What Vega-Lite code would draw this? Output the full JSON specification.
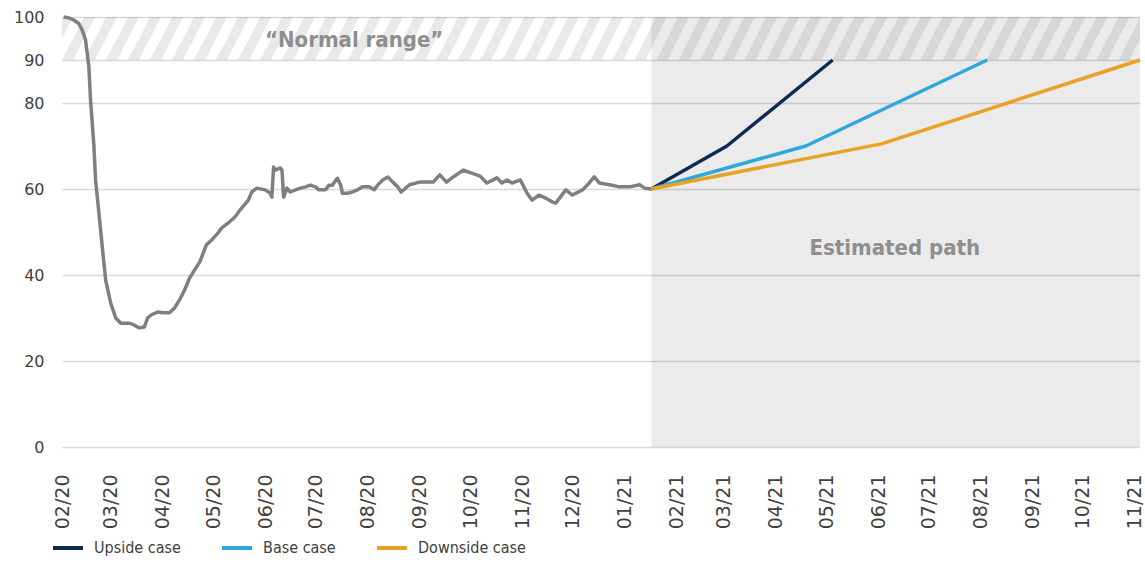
{
  "$schema": "https://vega.github.io/schema/vega-lite/v6.json",
  "width": 1078,
  "height": 430,
  "autosize": {"type": "none"},
  "padding": {"left": 62, "top": 17, "right": 5, "bottom": 116},
  "background": "white",
  "config": {
    "view": {"stroke": null},
    "font": "DejaVu Sans",
    "axisX": {"domain": false, "ticks": false, "grid": false, "labelAngle": -90, "labelPadding": 27, "labelFont": "DejaVu Sans", "labelFontSize": 19, "labelColor": "#404040", "title": null},
    "axisY": {"domain": false, "ticks": false, "grid": true, "gridColor": "#d9d9d9", "gridWidth": 1.5, "labelPadding": 18, "labelFont": "DejaVu Sans", "labelFontSize": 16, "labelColor": "#404040", "title": null}
  },
  "datasets": {
    "actual": [
      {"date":"2020-02-02","value":100},{"date":"2020-02-05","value":99.8},{"date":"2020-02-08","value":99.3},{"date":"2020-02-11","value":98.5},
      {"date":"2020-02-13","value":97},{"date":"2020-02-15","value":94.7},{"date":"2020-02-17","value":88.4},{"date":"2020-02-18","value":80.7},
      {"date":"2020-02-20","value":70},{"date":"2020-02-21","value":62},{"date":"2020-02-23","value":54.4},{"date":"2020-02-25","value":46.5},
      {"date":"2020-02-27","value":38.8},{"date":"2020-03-01","value":33.5},{"date":"2020-03-04","value":30},{"date":"2020-03-07","value":28.8},
      {"date":"2020-03-12","value":28.8},{"date":"2020-03-15","value":28.4},{"date":"2020-03-18","value":27.7},{"date":"2020-03-21","value":27.9},
      {"date":"2020-03-23","value":30},{"date":"2020-03-25","value":30.7},{"date":"2020-03-29","value":31.4},{"date":"2020-04-01","value":31.2},
      {"date":"2020-04-05","value":31.2},{"date":"2020-04-08","value":32.3},{"date":"2020-04-11","value":34.2},{"date":"2020-04-14","value":36.5},
      {"date":"2020-04-17","value":39.3},{"date":"2020-04-20","value":41.2},{"date":"2020-04-23","value":43},{"date":"2020-04-27","value":47},
      {"date":"2020-04-30","value":48.1},{"date":"2020-05-04","value":49.8},{"date":"2020-05-06","value":50.9},{"date":"2020-05-10","value":52.1},
      {"date":"2020-05-14","value":53.5},{"date":"2020-05-17","value":55.1},{"date":"2020-05-22","value":57.4},{"date":"2020-05-24","value":59.3},
      {"date":"2020-05-27","value":60.2},{"date":"2020-06-01","value":59.8},{"date":"2020-06-04","value":59},{"date":"2020-06-05","value":58.1},
      {"date":"2020-06-06","value":65.1},{"date":"2020-06-07","value":64.4},{"date":"2020-06-10","value":64.9},{"date":"2020-06-11","value":64.4},
      {"date":"2020-06-12","value":58.1},{"date":"2020-06-14","value":60.2},{"date":"2020-06-16","value":59.3},{"date":"2020-06-19","value":59.8},
      {"date":"2020-06-22","value":60.2},{"date":"2020-06-25","value":60.5},{"date":"2020-06-28","value":60.9},{"date":"2020-07-01","value":60.5},
      {"date":"2020-07-03","value":59.8},{"date":"2020-07-07","value":59.8},{"date":"2020-07-09","value":60.9},{"date":"2020-07-11","value":60.9},
      {"date":"2020-07-14","value":62.5},{"date":"2020-07-16","value":60.9},{"date":"2020-07-17","value":59},{"date":"2020-07-20","value":59},
      {"date":"2020-07-23","value":59.3},{"date":"2020-07-26","value":59.8},{"date":"2020-07-29","value":60.5},{"date":"2020-08-02","value":60.5},
      {"date":"2020-08-05","value":59.8},{"date":"2020-08-07","value":60.9},{"date":"2020-08-10","value":62.1},{"date":"2020-08-13","value":62.8},
      {"date":"2020-08-16","value":61.6},{"date":"2020-08-19","value":60.5},{"date":"2020-08-21","value":59.3},{"date":"2020-08-26","value":61},
      {"date":"2020-09-01","value":61.6},{"date":"2020-09-09","value":61.6},{"date":"2020-09-13","value":63.3},{"date":"2020-09-17","value":61.6},
      {"date":"2020-09-21","value":62.8},{"date":"2020-09-27","value":64.4},{"date":"2020-10-02","value":63.7},{"date":"2020-10-07","value":63},
      {"date":"2020-10-11","value":61.4},{"date":"2020-10-17","value":62.6},{"date":"2020-10-20","value":61.4},{"date":"2020-10-23","value":62.1},
      {"date":"2020-10-26","value":61.4},{"date":"2020-10-31","value":62.1},{"date":"2020-11-04","value":59},{"date":"2020-11-07","value":57.4},
      {"date":"2020-11-11","value":58.6},{"date":"2020-11-15","value":57.9},{"date":"2020-11-19","value":57},{"date":"2020-11-21","value":56.7},
      {"date":"2020-11-27","value":59.8},{"date":"2020-12-01","value":58.6},{"date":"2020-12-07","value":59.8},{"date":"2020-12-11","value":61.4},
      {"date":"2020-12-14","value":62.8},{"date":"2020-12-17","value":61.4},{"date":"2020-12-23","value":61},{"date":"2020-12-29","value":60.5},
      {"date":"2021-01-04","value":60.5},{"date":"2021-01-10","value":61},{"date":"2021-01-13","value":60.2},{"date":"2021-01-17","value":60}
    ],
    "scenarios": [
      {"series":"Upside case","date":"2021-01-17","value":60},{"series":"Upside case","date":"2021-03-03","value":70},{"series":"Upside case","date":"2021-05-05","value":90},
      {"series":"Base case","date":"2021-01-17","value":60},{"series":"Base case","date":"2021-04-19","value":70},{"series":"Base case","date":"2021-08-05","value":90},
      {"series":"Downside case","date":"2021-01-17","value":60},{"series":"Downside case","date":"2021-06-03","value":70.5},{"series":"Downside case","date":"2021-11-04","value":90}
    ]
  },
  "layer": [
    {
      "data": {"values": [{}]},
      "mark": {"type": "rect", "fill": "#000000", "fillOpacity": 0.078},
      "encoding": {
        "x": {"datum": {"year": 2021, "month": 1, "date": 17, "utc": true}, "type": "temporal"},
        "x2": {"datum": {"year": 2021, "month": 11, "date": 4, "utc": true}},
        "y": {"datum": 0, "type": "quantitative"},
        "y2": {"datum": 100}
      }
    },
    {
      "data": {"values": [{}]},
      "mark": {"type": "rect", "fill": {"gradient": "linear", "x1": 0, "y1": 0, "x2": 1.0204, "y2": 0.0208, "stops": [
        {"offset":0.00,"color":"rgba(0,0,0,0.085)"},{"offset":0.01,"color":"rgba(0,0,0,0.085)"},{"offset":0.01,"color":"rgba(0,0,0,0)"},{"offset":0.02,"color":"rgba(0,0,0,0)"},
        {"offset":0.02,"color":"rgba(0,0,0,0.085)"},{"offset":0.03,"color":"rgba(0,0,0,0.085)"},{"offset":0.03,"color":"rgba(0,0,0,0)"},{"offset":0.04,"color":"rgba(0,0,0,0)"},
        {"offset":0.04,"color":"rgba(0,0,0,0.085)"},{"offset":0.05,"color":"rgba(0,0,0,0.085)"},{"offset":0.05,"color":"rgba(0,0,0,0)"},{"offset":0.06,"color":"rgba(0,0,0,0)"},
        {"offset":0.06,"color":"rgba(0,0,0,0.085)"},{"offset":0.07,"color":"rgba(0,0,0,0.085)"},{"offset":0.07,"color":"rgba(0,0,0,0)"},{"offset":0.08,"color":"rgba(0,0,0,0)"},
        {"offset":0.08,"color":"rgba(0,0,0,0.085)"},{"offset":0.09,"color":"rgba(0,0,0,0.085)"},{"offset":0.09,"color":"rgba(0,0,0,0)"},{"offset":0.10,"color":"rgba(0,0,0,0)"},
        {"offset":0.10,"color":"rgba(0,0,0,0.085)"},{"offset":0.11,"color":"rgba(0,0,0,0.085)"},{"offset":0.11,"color":"rgba(0,0,0,0)"},{"offset":0.12,"color":"rgba(0,0,0,0)"},
        {"offset":0.12,"color":"rgba(0,0,0,0.085)"},{"offset":0.13,"color":"rgba(0,0,0,0.085)"},{"offset":0.13,"color":"rgba(0,0,0,0)"},{"offset":0.14,"color":"rgba(0,0,0,0)"},
        {"offset":0.14,"color":"rgba(0,0,0,0.085)"},{"offset":0.15,"color":"rgba(0,0,0,0.085)"},{"offset":0.15,"color":"rgba(0,0,0,0)"},{"offset":0.16,"color":"rgba(0,0,0,0)"},
        {"offset":0.16,"color":"rgba(0,0,0,0.085)"},{"offset":0.17,"color":"rgba(0,0,0,0.085)"},{"offset":0.17,"color":"rgba(0,0,0,0)"},{"offset":0.18,"color":"rgba(0,0,0,0)"},
        {"offset":0.18,"color":"rgba(0,0,0,0.085)"},{"offset":0.19,"color":"rgba(0,0,0,0.085)"},{"offset":0.19,"color":"rgba(0,0,0,0)"},{"offset":0.20,"color":"rgba(0,0,0,0)"},
        {"offset":0.20,"color":"rgba(0,0,0,0.085)"},{"offset":0.21,"color":"rgba(0,0,0,0.085)"},{"offset":0.21,"color":"rgba(0,0,0,0)"},{"offset":0.22,"color":"rgba(0,0,0,0)"},
        {"offset":0.22,"color":"rgba(0,0,0,0.085)"},{"offset":0.23,"color":"rgba(0,0,0,0.085)"},{"offset":0.23,"color":"rgba(0,0,0,0)"},{"offset":0.24,"color":"rgba(0,0,0,0)"},
        {"offset":0.24,"color":"rgba(0,0,0,0.085)"},{"offset":0.25,"color":"rgba(0,0,0,0.085)"},{"offset":0.25,"color":"rgba(0,0,0,0)"},{"offset":0.26,"color":"rgba(0,0,0,0)"},
        {"offset":0.26,"color":"rgba(0,0,0,0.085)"},{"offset":0.27,"color":"rgba(0,0,0,0.085)"},{"offset":0.27,"color":"rgba(0,0,0,0)"},{"offset":0.28,"color":"rgba(0,0,0,0)"},
        {"offset":0.28,"color":"rgba(0,0,0,0.085)"},{"offset":0.29,"color":"rgba(0,0,0,0.085)"},{"offset":0.29,"color":"rgba(0,0,0,0)"},{"offset":0.30,"color":"rgba(0,0,0,0)"},
        {"offset":0.30,"color":"rgba(0,0,0,0.085)"},{"offset":0.31,"color":"rgba(0,0,0,0.085)"},{"offset":0.31,"color":"rgba(0,0,0,0)"},{"offset":0.32,"color":"rgba(0,0,0,0)"},
        {"offset":0.32,"color":"rgba(0,0,0,0.085)"},{"offset":0.33,"color":"rgba(0,0,0,0.085)"},{"offset":0.33,"color":"rgba(0,0,0,0)"},{"offset":0.34,"color":"rgba(0,0,0,0)"},
        {"offset":0.34,"color":"rgba(0,0,0,0.085)"},{"offset":0.35,"color":"rgba(0,0,0,0.085)"},{"offset":0.35,"color":"rgba(0,0,0,0)"},{"offset":0.36,"color":"rgba(0,0,0,0)"},
        {"offset":0.36,"color":"rgba(0,0,0,0.085)"},{"offset":0.37,"color":"rgba(0,0,0,0.085)"},{"offset":0.37,"color":"rgba(0,0,0,0)"},{"offset":0.38,"color":"rgba(0,0,0,0)"},
        {"offset":0.38,"color":"rgba(0,0,0,0.085)"},{"offset":0.39,"color":"rgba(0,0,0,0.085)"},{"offset":0.39,"color":"rgba(0,0,0,0)"},{"offset":0.40,"color":"rgba(0,0,0,0)"},
        {"offset":0.40,"color":"rgba(0,0,0,0.085)"},{"offset":0.41,"color":"rgba(0,0,0,0.085)"},{"offset":0.41,"color":"rgba(0,0,0,0)"},{"offset":0.42,"color":"rgba(0,0,0,0)"},
        {"offset":0.42,"color":"rgba(0,0,0,0.085)"},{"offset":0.43,"color":"rgba(0,0,0,0.085)"},{"offset":0.43,"color":"rgba(0,0,0,0)"},{"offset":0.44,"color":"rgba(0,0,0,0)"},
        {"offset":0.44,"color":"rgba(0,0,0,0.085)"},{"offset":0.45,"color":"rgba(0,0,0,0.085)"},{"offset":0.45,"color":"rgba(0,0,0,0)"},{"offset":0.46,"color":"rgba(0,0,0,0)"},
        {"offset":0.46,"color":"rgba(0,0,0,0.085)"},{"offset":0.47,"color":"rgba(0,0,0,0.085)"},{"offset":0.47,"color":"rgba(0,0,0,0)"},{"offset":0.48,"color":"rgba(0,0,0,0)"},
        {"offset":0.48,"color":"rgba(0,0,0,0.085)"},{"offset":0.49,"color":"rgba(0,0,0,0.085)"},{"offset":0.49,"color":"rgba(0,0,0,0)"},{"offset":0.50,"color":"rgba(0,0,0,0)"},
        {"offset":0.50,"color":"rgba(0,0,0,0.085)"},{"offset":0.51,"color":"rgba(0,0,0,0.085)"},{"offset":0.51,"color":"rgba(0,0,0,0)"},{"offset":0.52,"color":"rgba(0,0,0,0)"},
        {"offset":0.52,"color":"rgba(0,0,0,0.085)"},{"offset":0.53,"color":"rgba(0,0,0,0.085)"},{"offset":0.53,"color":"rgba(0,0,0,0)"},{"offset":0.54,"color":"rgba(0,0,0,0)"},
        {"offset":0.54,"color":"rgba(0,0,0,0.085)"},{"offset":0.55,"color":"rgba(0,0,0,0.085)"},{"offset":0.55,"color":"rgba(0,0,0,0)"},{"offset":0.56,"color":"rgba(0,0,0,0)"},
        {"offset":0.56,"color":"rgba(0,0,0,0.085)"},{"offset":0.57,"color":"rgba(0,0,0,0.085)"},{"offset":0.57,"color":"rgba(0,0,0,0)"},{"offset":0.58,"color":"rgba(0,0,0,0)"},
        {"offset":0.58,"color":"rgba(0,0,0,0.085)"},{"offset":0.59,"color":"rgba(0,0,0,0.085)"},{"offset":0.59,"color":"rgba(0,0,0,0)"},{"offset":0.60,"color":"rgba(0,0,0,0)"},
        {"offset":0.60,"color":"rgba(0,0,0,0.085)"},{"offset":0.61,"color":"rgba(0,0,0,0.085)"},{"offset":0.61,"color":"rgba(0,0,0,0)"},{"offset":0.62,"color":"rgba(0,0,0,0)"},
        {"offset":0.62,"color":"rgba(0,0,0,0.085)"},{"offset":0.63,"color":"rgba(0,0,0,0.085)"},{"offset":0.63,"color":"rgba(0,0,0,0)"},{"offset":0.64,"color":"rgba(0,0,0,0)"},
        {"offset":0.64,"color":"rgba(0,0,0,0.085)"},{"offset":0.65,"color":"rgba(0,0,0,0.085)"},{"offset":0.65,"color":"rgba(0,0,0,0)"},{"offset":0.66,"color":"rgba(0,0,0,0)"},
        {"offset":0.66,"color":"rgba(0,0,0,0.085)"},{"offset":0.67,"color":"rgba(0,0,0,0.085)"},{"offset":0.67,"color":"rgba(0,0,0,0)"},{"offset":0.68,"color":"rgba(0,0,0,0)"},
        {"offset":0.68,"color":"rgba(0,0,0,0.085)"},{"offset":0.69,"color":"rgba(0,0,0,0.085)"},{"offset":0.69,"color":"rgba(0,0,0,0)"},{"offset":0.70,"color":"rgba(0,0,0,0)"},
        {"offset":0.70,"color":"rgba(0,0,0,0.085)"},{"offset":0.71,"color":"rgba(0,0,0,0.085)"},{"offset":0.71,"color":"rgba(0,0,0,0)"},{"offset":0.72,"color":"rgba(0,0,0,0)"},
        {"offset":0.72,"color":"rgba(0,0,0,0.085)"},{"offset":0.73,"color":"rgba(0,0,0,0.085)"},{"offset":0.73,"color":"rgba(0,0,0,0)"},{"offset":0.74,"color":"rgba(0,0,0,0)"},
        {"offset":0.74,"color":"rgba(0,0,0,0.085)"},{"offset":0.75,"color":"rgba(0,0,0,0.085)"},{"offset":0.75,"color":"rgba(0,0,0,0)"},{"offset":0.76,"color":"rgba(0,0,0,0)"},
        {"offset":0.76,"color":"rgba(0,0,0,0.085)"},{"offset":0.77,"color":"rgba(0,0,0,0.085)"},{"offset":0.77,"color":"rgba(0,0,0,0)"},{"offset":0.78,"color":"rgba(0,0,0,0)"},
        {"offset":0.78,"color":"rgba(0,0,0,0.085)"},{"offset":0.79,"color":"rgba(0,0,0,0.085)"},{"offset":0.79,"color":"rgba(0,0,0,0)"},{"offset":0.80,"color":"rgba(0,0,0,0)"},
        {"offset":0.80,"color":"rgba(0,0,0,0.085)"},{"offset":0.81,"color":"rgba(0,0,0,0.085)"},{"offset":0.81,"color":"rgba(0,0,0,0)"},{"offset":0.82,"color":"rgba(0,0,0,0)"},
        {"offset":0.82,"color":"rgba(0,0,0,0.085)"},{"offset":0.83,"color":"rgba(0,0,0,0.085)"},{"offset":0.83,"color":"rgba(0,0,0,0)"},{"offset":0.84,"color":"rgba(0,0,0,0)"},
        {"offset":0.84,"color":"rgba(0,0,0,0.085)"},{"offset":0.85,"color":"rgba(0,0,0,0.085)"},{"offset":0.85,"color":"rgba(0,0,0,0)"},{"offset":0.86,"color":"rgba(0,0,0,0)"},
        {"offset":0.86,"color":"rgba(0,0,0,0.085)"},{"offset":0.87,"color":"rgba(0,0,0,0.085)"},{"offset":0.87,"color":"rgba(0,0,0,0)"},{"offset":0.88,"color":"rgba(0,0,0,0)"},
        {"offset":0.88,"color":"rgba(0,0,0,0.085)"},{"offset":0.89,"color":"rgba(0,0,0,0.085)"},{"offset":0.89,"color":"rgba(0,0,0,0)"},{"offset":0.90,"color":"rgba(0,0,0,0)"},
        {"offset":0.90,"color":"rgba(0,0,0,0.085)"},{"offset":0.91,"color":"rgba(0,0,0,0.085)"},{"offset":0.91,"color":"rgba(0,0,0,0)"},{"offset":0.92,"color":"rgba(0,0,0,0)"},
        {"offset":0.92,"color":"rgba(0,0,0,0.085)"},{"offset":0.93,"color":"rgba(0,0,0,0.085)"},{"offset":0.93,"color":"rgba(0,0,0,0)"},{"offset":0.94,"color":"rgba(0,0,0,0)"},
        {"offset":0.94,"color":"rgba(0,0,0,0.085)"},{"offset":0.95,"color":"rgba(0,0,0,0.085)"},{"offset":0.95,"color":"rgba(0,0,0,0)"},{"offset":0.96,"color":"rgba(0,0,0,0)"},
        {"offset":0.96,"color":"rgba(0,0,0,0.085)"},{"offset":0.97,"color":"rgba(0,0,0,0.085)"},{"offset":0.97,"color":"rgba(0,0,0,0)"},{"offset":0.98,"color":"rgba(0,0,0,0)"},
        {"offset":0.98,"color":"rgba(0,0,0,0.085)"},{"offset":0.99,"color":"rgba(0,0,0,0.085)"},{"offset":0.99,"color":"rgba(0,0,0,0)"},{"offset":1.00,"color":"rgba(0,0,0,0)"}
      ]}},
      "encoding": {
        "x": {"datum": {"year": 2020, "month": 2, "date": 1, "utc": true}, "type": "temporal"},
        "x2": {"datum": {"year": 2021, "month": 11, "date": 4, "utc": true}},
        "y": {"datum": 90, "type": "quantitative"},
        "y2": {"datum": 100}
      }
    },
    {
      "data": {"name": "actual"},
      "mark": {"type": "line", "color": "#7f7f7f", "strokeWidth": 3.5, "strokeJoin": "round"},
      "encoding": {
        "x": {"field": "date", "type": "temporal", "title": null,
              "scale": {"type": "utc", "domain": [{"year": 2020, "month": 2, "date": 1, "utc": true}, {"year": 2021, "month": 11, "date": 4, "utc": true}]},
              "axis": {"format": "%m/%y", "values": [
                {"year":2020,"month":2,"date":1,"utc":true},{"year":2020,"month":3,"date":1,"utc":true},{"year":2020,"month":4,"date":1,"utc":true},
                {"year":2020,"month":5,"date":1,"utc":true},{"year":2020,"month":6,"date":1,"utc":true},{"year":2020,"month":7,"date":1,"utc":true},
                {"year":2020,"month":8,"date":1,"utc":true},{"year":2020,"month":9,"date":1,"utc":true},{"year":2020,"month":10,"date":1,"utc":true},
                {"year":2020,"month":11,"date":1,"utc":true},{"year":2020,"month":12,"date":1,"utc":true},{"year":2021,"month":1,"date":1,"utc":true},
                {"year":2021,"month":2,"date":1,"utc":true},{"year":2021,"month":3,"date":1,"utc":true},{"year":2021,"month":4,"date":1,"utc":true},
                {"year":2021,"month":5,"date":1,"utc":true},{"year":2021,"month":6,"date":1,"utc":true},{"year":2021,"month":7,"date":1,"utc":true},
                {"year":2021,"month":8,"date":1,"utc":true},{"year":2021,"month":9,"date":1,"utc":true},{"year":2021,"month":10,"date":1,"utc":true},
                {"year":2021,"month":11,"date":1,"utc":true}]}},
        "y": {"field": "value", "type": "quantitative", "title": null,
              "scale": {"domain": [0, 100], "nice": false},
              "axis": {"values": [0, 20, 40, 60, 80, 90, 100]}}
      }
    },
    {
      "data": {"name": "scenarios"},
      "mark": {"type": "line", "strokeWidth": 3.5, "strokeJoin": "round"},
      "encoding": {
        "x": {"field": "date", "type": "temporal", "title": null},
        "y": {"field": "value", "type": "quantitative", "title": null},
        "color": {"field": "series", "type": "nominal",
                  "scale": {"domain": ["Upside case", "Base case", "Downside case"], "range": ["#0d2c54", "#2ea8dc", "#e9a126"]},
                  "legend": {"orient": "none", "legendX": -11, "legendY": 514, "direction": "horizontal", "title": null,
                             "symbolType": "stroke", "symbolSize": 900, "symbolStrokeWidth": 4, "labelOffset": 9, "columnPadding": 33,
                             "labelFont": "DejaVu Sans Condensed, Liberation Sans Narrow, sans-serif", "labelFontSize": 16, "labelColor": "#404040"}}
      }
    },
    {
      "data": {"values": [{}]},
      "mark": {"type": "text", "text": "“Normal range”", "font": "DejaVu Sans Condensed, Liberation Sans Narrow, sans-serif", "fontWeight": "bold", "fontSize": 22, "color": "#8e8e8e", "align": "center", "baseline": "alphabetic"},
      "encoding": {
        "x": {"datum": {"year": 2020, "month": 7, "date": 24, "utc": true}, "type": "temporal"},
        "y": {"datum": 93, "type": "quantitative"}
      }
    },
    {
      "data": {"values": [{}]},
      "mark": {"type": "text", "text": "Estimated path", "font": "DejaVu Sans Condensed, Liberation Sans Narrow, sans-serif", "fontWeight": "bold", "fontSize": 22, "color": "#8e8e8e", "align": "center", "baseline": "alphabetic"},
      "encoding": {
        "x": {"datum": {"year": 2021, "month": 6, "date": 11, "utc": true}, "type": "temporal"},
        "y": {"datum": 44.6, "type": "quantitative"}
      }
    }
  ]
}
